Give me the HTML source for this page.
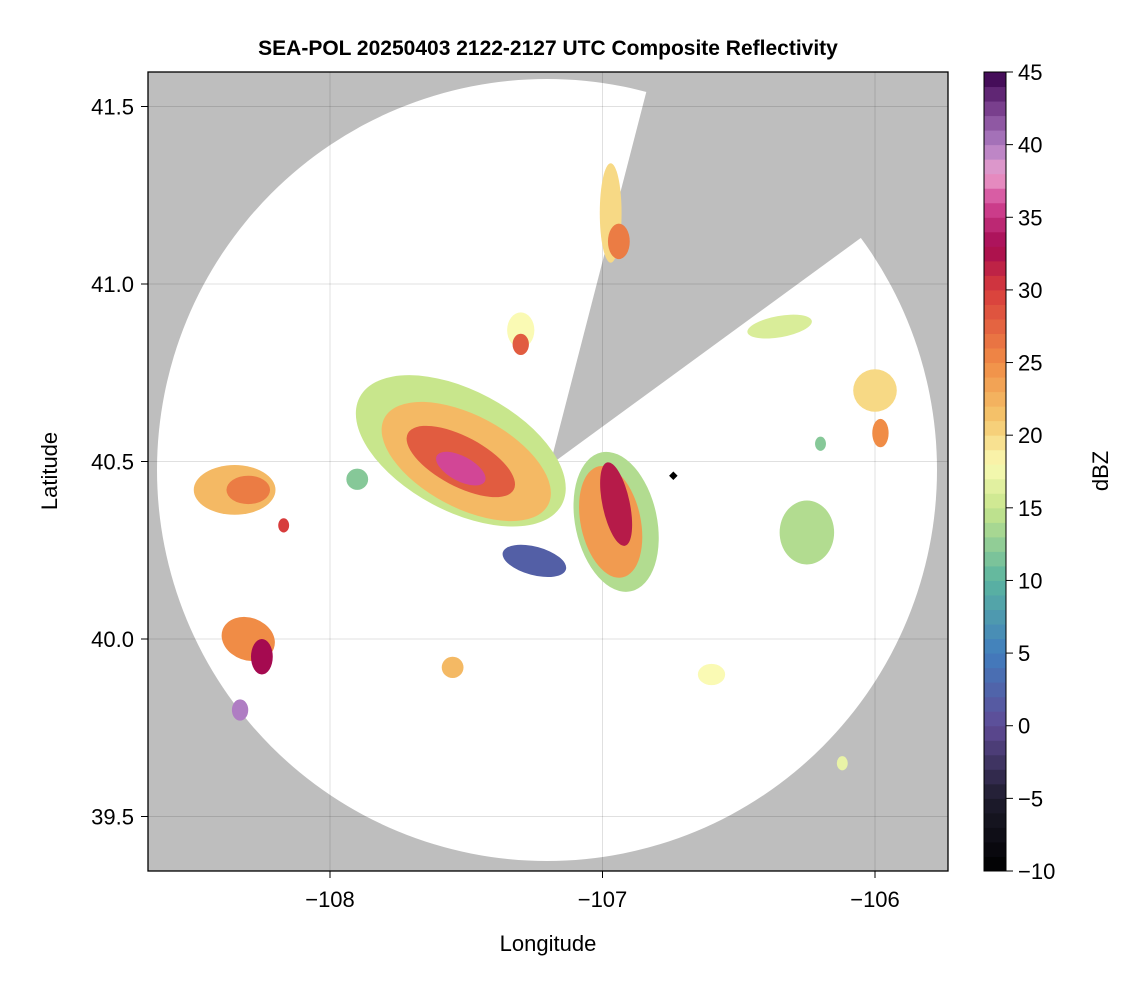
<!DOCTYPE html>
<html><head><meta charset="utf-8"><style>
body{margin:0;background:#fff;}
svg text{font-family:"Liberation Sans",sans-serif;}
</style></head><body>
<svg id="chart" width="1146" height="990" xmlns="http://www.w3.org/2000/svg">
<defs><clipPath id="plotclip"><rect x="148" y="72" width="800" height="799"/></clipPath></defs>
<text x="548" y="55" text-anchor="middle" font-size="21" font-weight="bold">SEA-POL 20250403 2122-2127 UTC Composite Reflectivity</text>
<g id="plot" clip-path="url(#plotclip)">
<rect x="148" y="72" width="800" height="799" fill="#bebebe"/>
<ellipse cx="547" cy="470" rx="390" ry="391" fill="#fff"/>
<polygon points="550,465 740,-271 1166,15" fill="#bebebe"/>
<g id="grid"></g>
<g id="cells"></g>
</g>
<rect x="148" y="72" width="800" height="799" fill="none" stroke="#000" stroke-width="1.3"/>
<g id="axes"></g>
<text x="548" y="951" text-anchor="middle" font-size="22">Longitude</text>
<text transform="translate(57,471) rotate(-90)" text-anchor="middle" font-size="22">Latitude</text>
<g id="cbar"></g>
<text transform="translate(1108,471) rotate(-90)" text-anchor="middle" font-size="22">dBZ</text>
</svg>
<script>
const xTicks=[-108,-107,-106];
const yTicks=[39.5,40.0,40.5,41.0,41.5];
const cbTicks=[-10,-5,0,5,10,15,20,25,30,35,40,45];
const cellLon=[-107.52,-107.5,-107.52,-107.52,-106.95,-106.97,-106.95,-107.25,-108.35,-108.3,-108.3,-108.25,-108.33,-106.97,-106.94,-107.3,-107.3,-106.25,-106.0,-106.35,-105.98,-106.6,-107.55,-106.2,-106.12,-107.9,-108.17];
const cellLat=[40.53,40.5,40.5,40.48,40.33,40.33,40.38,40.22,40.42,40.42,40.0,39.95,39.8,41.2,41.12,40.87,40.83,40.3,40.7,40.88,40.58,39.9,39.92,40.55,39.65,40.45,40.32];
const cellRx=[0.42,0.34,0.22,0.1,0.15,0.11,0.05,0.12,0.15,0.08,0.1,0.04,0.03,0.04,0.04,0.05,0.03,0.1,0.08,0.12,0.03,0.05,0.04,0.02,0.02,0.04,0.02];
const cellRy=[0.17,0.13,0.07,0.035,0.2,0.16,0.12,0.04,0.07,0.04,0.06,0.05,0.03,0.14,0.05,0.05,0.03,0.09,0.06,0.03,0.04,0.03,0.03,0.02,0.02,0.03,0.02];
const cellRot=[28,28,28,28,-12,-12,-12,15,0,0,20,0,0,0,0,0,0,0,0,-10,0,0,0,0,0,0,0];
const cellDbz=[15,22,28,36,14,24,32,2,22,26,25,33,40,20,26,18,28,14,20,16,25,18,22,12,17,12,30];
const cmStops=[[-10,[0,0,0]],[-5,[30,28,45]],[0,[95,75,150]],[5,[65,125,190]],[10,[90,180,160]],[15,[200,230,140]],[18,[250,250,180]],[21,[245,200,110]],[25,[240,140,70]],[30,[215,60,60]],[33,[165,10,80]],[36,[210,70,150]],[38,[235,160,205]],[40,[175,125,195]],[43,[110,50,130]],[45,[55,0,75]]];
const X=l=>330+(l+108)*272.5, Y=a=>639-(a-40)*355;
const CB=v=>871-(v+10)*799/55;
const NS="http://www.w3.org/2000/svg";
function mk(t,p,a){const e=document.createElementNS(NS,t);for(const k in a)e.setAttribute(k,a[k]);p.appendChild(e);return e;}
function cmap(v){for(let i=0;i<cmStops.length-1;i++){const [a,ca]=cmStops[i],[b,cb]=cmStops[i+1];if(v<=b){const t=Math.max(0,(v-a)/(b-a));return`rgb(${ca.map((c,j)=>Math.round(c+(cb[j]-c)*t)).join(',')})`;}}return'rgb(55,0,75)';}
const grid=document.getElementById('grid'),axes=document.getElementById('axes');
xTicks.forEach(t=>{const x=X(t);
const g=mk('line',grid,{x1:x,x2:x,y1:72,y2:871,stroke:'#000','stroke-opacity':0.12});

const k=mk('line',axes,{x1:x,x2:x,y1:871,y2:878,stroke:'#000'});

const l=mk('text',axes,{x:x,y:907,'text-anchor':'middle','font-size':22});l.textContent='\u2212'+Math.abs(t);
});
yTicks.forEach(t=>{const y=Y(t);
const g=mk('line',grid,{x1:148,x2:948,y1:y,y2:y,stroke:'#000','stroke-opacity':0.12});

const k=mk('line',axes,{x1:141,x2:148,y1:y,y2:y,stroke:'#000'});

const l=mk('text',axes,{x:134,y:y+8,'text-anchor':'end','font-size':22});l.textContent=t.toFixed(1);
});
const cells=document.getElementById('cells');
cellLon.forEach((lo,i)=>{const cx=X(lo),cy=Y(cellLat[i]);
const e=mk('ellipse',cells,{cx:cx,cy:cy,rx:cellRx[i]*272.5,ry:cellRy[i]*355,fill:cmap(cellDbz[i]),transform:`rotate(${cellRot[i]} ${cx} ${cy})`});
});
const d=mk('rect',cells,{x:X(-106.74)-3,y:Y(40.46)-3,width:6,height:6,fill:'#000',transform:`rotate(45 ${X(-106.74)} ${Y(40.46)})`});

const cb=document.getElementById('cbar');
for(let v=-10;v<45;v+=1){const r=mk('rect',cb,{x:984,y:CB(v+1),width:22,height:CB(v)-CB(v+1)+0.5,fill:cmap(v+0.5)});
}
const fr=mk('rect',cb,{x:984,y:72,width:22,height:799,fill:'none',stroke:'#000'});

cbTicks.forEach(t=>{const y=CB(t);
const k=mk('line',cb,{x1:1006,x2:1013,y1:y,y2:y,stroke:'#000'});

const l=mk('text',cb,{x:1018,y:y+8,'font-size':22});l.textContent=t<0?'\u2212'+Math.abs(t):String(t);
});
</script>
</body></html>
